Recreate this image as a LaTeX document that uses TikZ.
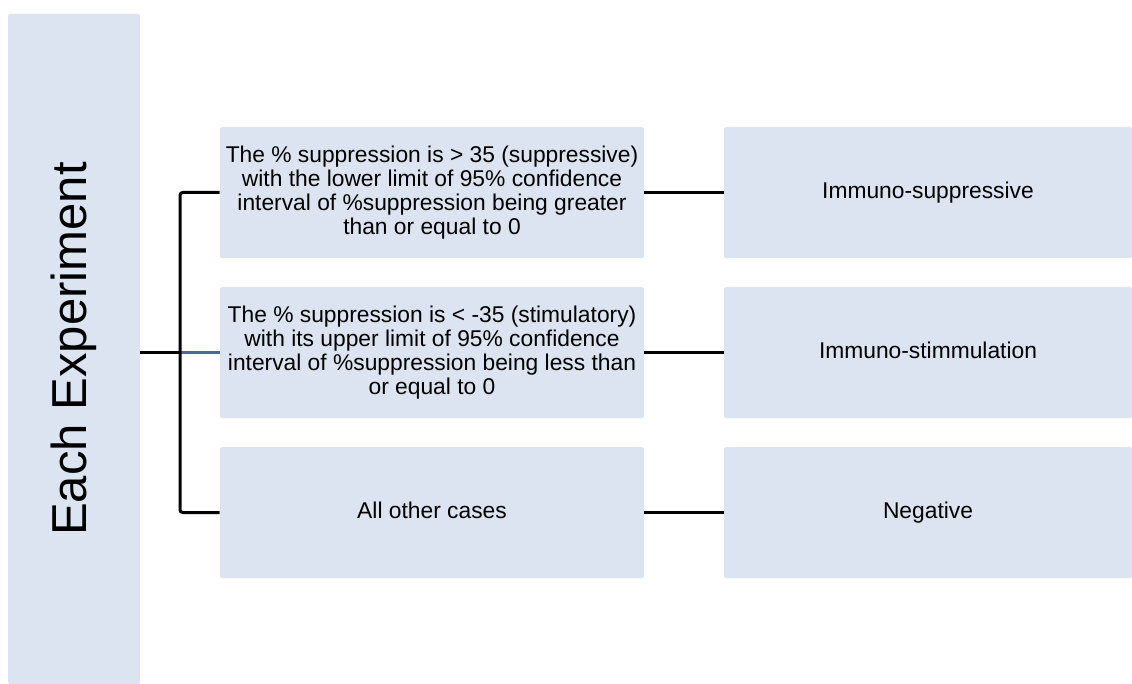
\documentclass[tikz,border=0pt]{standalone}
\usepackage{fontspec}
\setmainfont{Liberation Sans}
\definecolor{boxfill}{RGB}{219,228,240}
\definecolor{linkblue}{RGB}{74,106,150}
\tikzset{
	cell/.style={fill=boxfill, rounded corners=1.5pt, inner sep=0pt, align=center, font=\fontsize{17.1}{18}\selectfont},
	oneline/.style={text height=10pt, text depth=1pt},
	midcell/.style={cell, minimum width=318pt, minimum height=98.25pt},
	endcell/.style={cell, oneline, minimum width=306pt, minimum height=98.25pt},
	link/.style={line width=2.25pt}
}
\begin{document}
\begin{tikzpicture}[x=0.75pt,y=-0.75pt]
			\useasboundingbox (0,0) rectangle (1132,684);
			\node[cell, rotate=90, minimum width=502.5pt, minimum height=99pt, font=\fontsize{36.8}{40}\selectfont] (exp) at (74,349) {Each Experiment};

			\node[midcell] (c1) at (432,192.5) {The \% suppression is > 35 (suppressive)\\ with the lower limit of 95\% confidence\\ interval of \%suppression being greater\\ than or equal to 0};
			\node[midcell] (c2) at (432,352.5) {The \% suppression is < -35 (stimulatory)\\ with its upper limit of 95\% confidence\\ interval of \%suppression being less than\\ or equal to 0};
			\node[midcell, oneline] (c3) at (432,512.5) {All other cases};

			\node[endcell] (r1) at (928,192.5) {Immuno-suppressive};
			\node[endcell] (r2) at (928,352.5) {Immuno-stimmulation};
			\node[endcell] (r3) at (928,512.5) {Negative};

			\coordinate (fork) at (180,352.5);
			\draw[link, linkblue] (fork) -- (c2.west);
			\draw[link] (exp.south |- fork) -- (fork);
			\draw[link, rounded corners=2pt] (c1.west) -| (fork) |- (c3.west);
			\foreach \i in {1,2,3}
			\draw[link] (c\i.east) -- (r\i.west);
		\end{tikzpicture}
\end{document}
